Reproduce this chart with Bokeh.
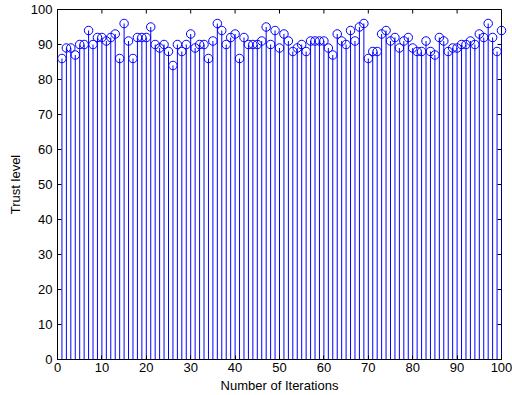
from bokeh.plotting import figure
from bokeh.models import FixedTicker, ColumnDataSource
from bokeh.embed import file_html
from bokeh.resources import INLINE

iterations = list(range(1, 101))
trust = [86, 89, 89, 87, 90, 90, 94, 90, 92, 92,
         91, 92, 93, 86, 96, 91, 86, 92, 92, 92,
         95, 90, 89, 90, 88, 84, 90, 88, 90, 93,
         89, 90, 90, 86, 91, 96, 94, 90, 92, 93,
         86, 92, 90, 90, 90, 91, 95, 90, 94, 89,
         93, 91, 88, 89, 90, 88, 91, 91, 91, 91,
         89, 87, 93, 91, 90, 94, 91, 95, 96, 86,
         88, 88, 93, 94, 91, 92, 89, 91, 92, 89,
         88, 88, 91, 88, 87, 92, 91, 88, 89, 89,
         90, 90, 91, 90, 93, 92, 96, 92, 88, 94]
x_ticks = [0, 10, 20, 30, 40, 50, 60, 70, 80, 90, 100]
y_ticks = [0, 10, 20, 30, 40, 50, 60, 70, 80, 90, 100]
x_label = "Number of Iterations"
y_label = "Trust level"

FONT = "Liberation Sans"
W, H = 512, 395

p = figure(width=W, height=H, x_range=(0, 100), y_range=(0, 100),
           output_backend="svg", toolbar_location=None,
           min_border_left=57, min_border_right=11, min_border_top=9, min_border_bottom=36)
p.styles = {"position": "absolute", "top": "0px", "left": "0px"}
p.background_fill_color = "white"
p.border_fill_color = "white"
p.outline_line_color = "black"
p.outline_line_width = 1
p.outline_line_alpha = 1
p.grid.visible = False

src = ColumnDataSource(dict(x=iterations, y=trust, base=[0] * len(trust)))
p.segment(x0="x", y0="base", x1="x", y1="y", source=src, line_color="#0000ff", line_width=1)
p.scatter(x="x", y="y", source=src, marker="circle", size=8.5, fill_color=None,
          line_color="#0000ff", line_width=1, level="overlay")

# inward ticks on top and right edges (MATLAB box style)
tick_len_y = 4 / 3.5
tick_len_x = 4 / 4.44
p.segment(x0=x_ticks, y0=[100] * len(x_ticks), x1=x_ticks, y1=[100 - tick_len_y] * len(x_ticks),
          line_color="black", line_width=1)
p.segment(x0=[100] * len(y_ticks), y0=y_ticks, x1=[100 - tick_len_x] * len(y_ticks), y1=y_ticks,
          line_color="black", line_width=1)

for ax, ticks in ((p.xaxis[0], x_ticks), (p.yaxis[0], y_ticks)):
    ax.ticker = FixedTicker(ticks=ticks)
    ax.major_tick_in = 4
    ax.major_tick_out = 0
    ax.minor_tick_in = 0
    ax.minor_tick_out = 0
    ax.axis_line_color = "black"
    ax.major_tick_line_color = "black"
    ax.major_label_text_font = FONT
    ax.major_label_text_font_size = "13px"
    ax.major_label_text_color = "black"
    ax.axis_label_text_font = FONT
    ax.axis_label_text_font_size = "13px"
    ax.axis_label_text_font_style = "normal"
    ax.axis_label_text_color = "black"

p.xaxis.axis_label = x_label
p.yaxis.axis_label = y_label
p.xaxis.major_label_standoff = 3
p.xaxis.axis_label_standoff = 3
p.yaxis.major_label_standoff = 5
p.yaxis.axis_label_standoff = 5

open("out.html", "w").write(file_html(p, INLINE))
